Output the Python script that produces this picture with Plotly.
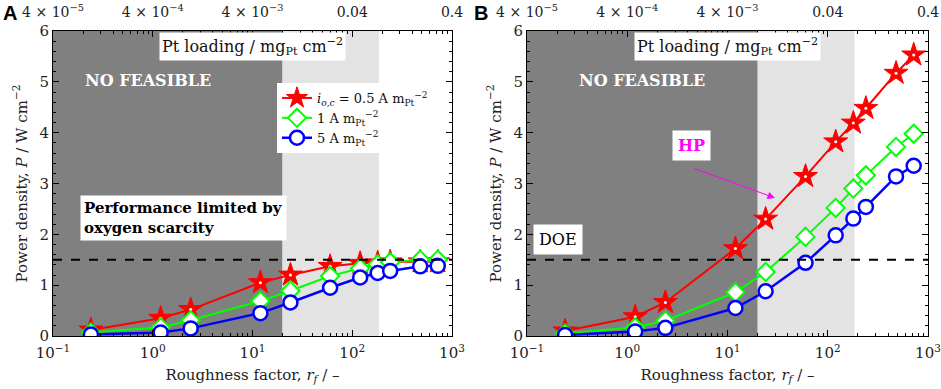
import plotly.graph_objects as go

W, H = 941, 389

# ---- data ----
rf = [0.24, 1.2, 2.4, 12, 24, 60, 120, 180, 240, 480, 720]
A_red = [0.12, 0.35, 0.52, 1.05, 1.20, 1.37, 1.43, 1.44, 1.46, 1.46, 1.46]
A_green = [0.07, 0.17, 0.31, 0.69, 0.89, 1.18, 1.33, 1.41, 1.45, 1.50, 1.50]
A_blue = [0.03, 0.07, 0.15, 0.45, 0.66, 0.95, 1.15, 1.24, 1.28, 1.37, 1.38]
B_red = [0.10, 0.38, 0.66, 1.72, 2.30, 3.14, 3.82, 4.19, 4.48, 5.17, 5.53]
B_green = [0.05, 0.17, 0.30, 0.86, 1.26, 1.95, 2.52, 2.90, 3.16, 3.72, 3.98]
B_blue = [0.02, 0.09, 0.16, 0.55, 0.88, 1.44, 1.98, 2.31, 2.54, 3.14, 3.35]
doe_target = 1.5
dark_region = [0.1, 20]
light_region = [20, 185]
x_ticks = [0.1, 1, 10, 100, 1000]
x_ticktext = ["10<sup>−1</sup>", "10<sup>0</sup>", "10<sup>1</sup>", "10<sup>2</sup>", "10<sup>3</sup>"]
top_ticktext = ["4 × 10<sup>−5</sup>", "4 × 10<sup>−4</sup>", "4 × 10<sup>−3</sup>", "0.04", "0.4"]
series_names = ["<i>i<sub>o,c</sub></i> = 0.5 A m<sub>Pt</sub><sup>−2</sup>",
                "1 A m<sub>Pt</sub><sup>−2</sup>",
                "5 A m<sub>Pt</sub><sup>−2</sup>"]

FONT = "DejaVu Serif"
TXT = "#222"

def px(x):
    return x / W

def py(y):
    return 1 - y / H

fig = go.Figure()

panels = [
    ("x", "y", A_red, A_green, A_blue, True),
    ("x2", "y2", B_red, B_green, B_blue, False),
]
for xa, ya, r, g, b, leg in panels:
    fig.add_trace(go.Scatter(x=rf, y=r, xaxis=xa, yaxis=ya, mode="lines+markers",
                             name=series_names[0], showlegend=leg, legendgroup="r",
                             line=dict(color="#ff0000", width=2),
                             marker=dict(symbol="star", size=18, color="#ff0000",
                                         line=dict(color="#ff0000", width=1))))
    fig.add_trace(go.Scatter(x=rf, y=r, xaxis=xa, yaxis=ya, mode="markers",
                             showlegend=False, hoverinfo="skip",
                             marker=dict(symbol="circle", size=3, color="white")))
    fig.add_trace(go.Scatter(x=rf, y=g, xaxis=xa, yaxis=ya, mode="lines+markers",
                             name=series_names[1], showlegend=leg, legendgroup="g",
                             line=dict(color="#00ff00", width=2),
                             marker=dict(symbol="diamond", size=14, color="white",
                                         line=dict(color="#00ff00", width=2))))
    fig.add_trace(go.Scatter(x=rf, y=b, xaxis=xa, yaxis=ya, mode="lines+markers",
                             name=series_names[2], showlegend=leg, legendgroup="b",
                             line=dict(color="#0000ff", width=2.5),
                             marker=dict(symbol="circle", size=14, color="white",
                                         line=dict(color="#0000ff", width=2.5))))

# invisible traces for top axes
fig.add_trace(go.Scatter(x=x_ticks, y=[None]*5, xaxis="x3", yaxis="y", showlegend=False,
                         hoverinfo="skip"))
fig.add_trace(go.Scatter(x=x_ticks, y=[None]*5, xaxis="x4", yaxis="y2", showlegend=False,
                         hoverinfo="skip"))

ydom = [1 - 336 / H, 1 - 31 / H]
xdomA = [53 / W, 452 / W]
xdomB = [527 / W, 928 / W]

minor_vals = [m * 10 ** e for e in range(-1, 3) for m in range(2, 10)]

def xaxis_cfg(dom, anchor):
    return dict(type="log", domain=dom, anchor=anchor, range=[-1, 3],
                tickvals=x_ticks, ticktext=x_ticktext, ticks="inside", ticklen=6,
                tickcolor="black", linecolor="black", linewidth=1, showline=True,
                mirror="ticks", showgrid=False, zeroline=False, ticklabelstandoff=3,
                minor=dict(tickvals=minor_vals, ticks="inside", ticklen=3, tickcolor="black",
                           showgrid=False),
                tickfont=dict(family=FONT, size=15, color=TXT),
                title=dict(text="Roughness factor, <i>r<sub>f</sub></i> / –",
                           font=dict(family=FONT, size=15, color=TXT), standoff=8),
                automargin=False)

def yaxis_cfg(anchor):
    return dict(domain=ydom, anchor=anchor, range=[0, 6], dtick=1, ticks="inside", ticklen=6,
                tickcolor="black", linecolor="black", linewidth=1, showline=True,
                mirror="ticks", showgrid=False, zeroline=False,
                minor=dict(dtick=0.2, ticks="inside", ticklen=3, tickcolor="black", showgrid=False),
                tickfont=dict(family=FONT, size=15, color=TXT),
                title=dict(text="Power density, <i>P</i> / W cm<sup>−2</sup>",
                           font=dict(family=FONT, size=15, color=TXT), standoff=8),
                automargin=False)

def top_cfg(overlay, dom):
    return dict(type="log", overlaying=overlay, side="top", range=[-1, 3], domain=dom,
                tickvals=x_ticks, ticktext=top_ticktext, ticks="", showline=False,
                showgrid=False, zeroline=False, ticklabelstandoff=10,
                tickfont=dict(family=FONT, size=14, color=TXT), automargin=False)

fig.update_layout(
    width=W, height=H, margin=dict(l=0, r=0, t=0, b=0),
    paper_bgcolor="white", plot_bgcolor="white",
    xaxis=xaxis_cfg(xdomA, "y"), yaxis=yaxis_cfg("x"),
    xaxis2=xaxis_cfg(xdomB, "y2"), yaxis2=yaxis_cfg("x2"),
    xaxis3=top_cfg("x", xdomA), xaxis4=top_cfg("x2", xdomB),
    legend=dict(x=px(277), y=py(83), xanchor="left", yanchor="top",
                bgcolor="white", borderwidth=0,
                font=dict(family=FONT, size=13, color="#111"),
                tracegroupgap=0, itemwidth=30),
    showlegend=True,
)

shapes = []
for xa, ya in [("x", "y"), ("x2", "y2")]:
    shapes.append(dict(type="rect", xref=xa, yref=ya, x0=dark_region[0], x1=dark_region[1],
                       y0=0, y1=6, fillcolor="#808080", line=dict(width=0), layer="below"))
    shapes.append(dict(type="rect", xref=xa, yref=ya, x0=light_region[0], x1=light_region[1],
                       y0=0, y1=6, fillcolor="#e3e3e3", line=dict(width=0), layer="below"))
    shapes.append(dict(type="line", xref=xa, yref=ya, x0=0.1, x1=1000, y0=doe_target,
                       y1=doe_target, line=dict(color="black", width=2, dash="dash")))
fig.update_layout(shapes=shapes)

def note(cx, cy, text, **kw):
    d = dict(x=px(cx), y=py(cy), xref="paper", yref="paper", text=text,
             showarrow=False, xanchor="center", yanchor="middle")
    d.update(kw)
    return d

ann = []
pt_text = "Pt loading / mg<sub>Pt</sub> cm<sup>−2</sup>"
for cx in (253, 727):
    ann.append(note(cx, 47, pt_text, bgcolor="white", borderpad=2,
                    font=dict(family=FONT, size=16, color="#111")))
for cx in (148, 642):
    ann.append(note(cx, 81, "<b>NO FEASIBLE</b>",
                    font=dict(family=FONT, size=16, color="white")))
ann.append(note(80, 218, "<b>Performance limited by</b><br><b>oxygen scarcity</b>",
                xanchor="left", align="left", bgcolor="white", borderpad=3,
                font=dict(family=FONT, size=15, color="black")))
ann.append(note(558, 239, "DOE", bgcolor="white", borderpad=5,
                font=dict(family=FONT, size=16, color="black")))
ann.append(note(691, 145, "<b>HP</b>", bgcolor="white", borderpad=5,
                font=dict(family=FONT, size=16, color="#ff00ff")))
ann.append(dict(x=px(775), y=py(198), xref="paper", yref="paper", text="",
                showarrow=True, ax=-82, ay=-30, arrowcolor="#ff00ff", arrowwidth=1,
                arrowhead=2, arrowsize=1.5))
ann.append(note(10, 13, "<b>A</b>", font=dict(family="Liberation Sans", size=20, color="black")))
ann.append(note(481, 13, "<b>B</b>", font=dict(family="Liberation Sans", size=20, color="black")))
fig.update_layout(annotations=ann)

fig.write_html("out.html", config={"displayModeBar": False},
               post_script="document.body.style.margin='0px';")
